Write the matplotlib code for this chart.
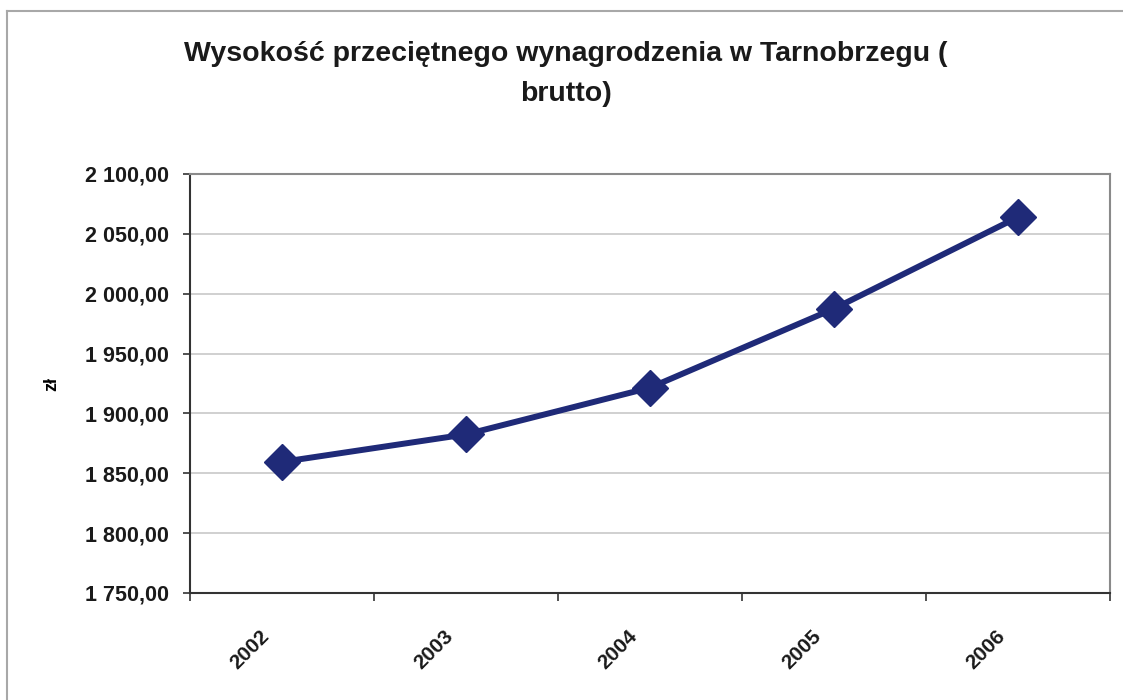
import matplotlib
matplotlib.use("Agg")
import matplotlib.pyplot as plt
import matplotlib.transforms as mtransforms
from matplotlib.lines import Line2D

# Average gross salary in Tarnobrzeg (PLN)
years = ["2002", "2003", "2004", "2005", "2006"]
salary = [1859.5, 1882.5, 1921.5, 1987.5, 2064.0]
y_ticks = [1750, 1800, 1850, 1900, 1950, 2000, 2050, 2100]

title_lines = ["Wysokość przeciętnego wynagrodzenia w Tarnobrzegu (", "brutto)"]
y_label = "zł"

FONT = "Liberation Sans"
NAVY = "#1f2a78"
W, H = 1123, 700

def pl_format(v):
    s = f"{v:,.2f}"
    return s.replace(",", " ").replace(".", ",")

fig = plt.figure(figsize=(W / 100, H / 100), dpi=100)
fig.patch.set_facecolor("white")

# outer chart frame (top and left edges)
fig.add_artist(Line2D([7 / W, 1.0], [1 - 11 / H, 1 - 11 / H],
                      transform=fig.transFigure, color="#a8a8a8", lw=1.5))
fig.add_artist(Line2D([7 / W, 7 / W], [0.0, 1 - 11 / H],
                      transform=fig.transFigure, color="#a8a8a8", lw=1.5))

ax = fig.add_axes([190 / W, 1 - 593 / H, (1110 - 190) / W, (593 - 174) / H])

x = list(range(len(years)))
ax.plot(x, salary, color=NAVY, lw=4.3, marker="D", markersize=18,
        markerfacecolor=NAVY, markeredgecolor=NAVY, zorder=3)

ax.set_xlim(-0.5, len(years) - 0.5)
ax.set_ylim(y_ticks[0], y_ticks[-1])

# y axis
ax.set_yticks(y_ticks)
ax.set_yticklabels([pl_format(v) for v in y_ticks], fontfamily=FONT,
                   fontweight="bold", fontsize=15.5, color="#1a1a1a")
ax.yaxis.grid(True, color="#c8c8c8", lw=1.2)
ax.set_axisbelow(True)
ax.tick_params(axis="y", direction="out", length=5, width=1.2, pad=10, color="#333333")

# x axis: ticks on category boundaries, labels at category centres
ax.set_xticks([i - 0.5 for i in range(len(years) + 1)])
ax.set_xticklabels([])
ax.set_xticks(x, minor=True)
ax.set_xticklabels(years, minor=True, rotation=45, ha="right", va="top",
                   fontfamily=FONT, fontweight="bold", fontsize=15, color="#1a1a1a")
ax.tick_params(axis="x", which="major", direction="out", length=6, width=1.2, color="#333333")
ax.tick_params(axis="x", which="minor", length=0, pad=24)
offset = mtransforms.ScaledTranslation(-9 / 100, 0, fig.dpi_scale_trans)
for lbl in ax.get_xticklabels(minor=True):
    lbl.set_transform(lbl.get_transform() + offset)

for side in ("left", "bottom"):
    ax.spines[side].set_color("#333333")
    ax.spines[side].set_linewidth(1.5)
for side in ("top", "right"):
    ax.spines[side].set_color("#8a8a8a")
    ax.spines[side].set_linewidth(1.5)

ax.set_ylabel(y_label, fontfamily=FONT, fontweight="bold", fontsize=13, labelpad=18)

# two-line title, placed line by line on its baselines
for text, base_y in zip(title_lines, [61, 101]):
    fig.text(566 / W, 1 - base_y / H, text, ha="center", va="baseline",
             fontfamily=FONT, fontweight="bold", fontsize=20.5, color="#1a1a1a")

fig.savefig("out.png", dpi=100, facecolor="white")
